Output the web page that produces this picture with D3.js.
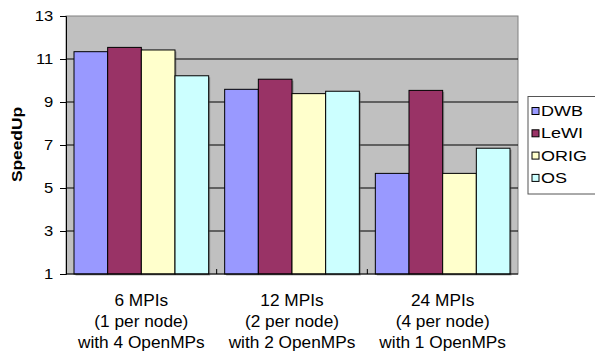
<!DOCTYPE html>
<html>
<head>
<meta charset="utf-8">
<script src="https://cdn.jsdelivr.net/npm/d3@7"></script>
<style>
body { margin: 0; background: #fff; }
text { font-family: "Liberation Sans", Arial, sans-serif; }
</style>
</head>
<body>
<svg id="chart" width="595" height="352"></svg>
<script>
var groups = ["g1", "g2", "g3"];
var group_labels = [
    ["6 MPIs", "(1 per node)", "with 4 OpenMPs"],
    ["12 MPIs", "(2 per node)", "with 2 OpenMPs"],
    ["24 MPIs", "(4 per node)", "with 1 OpenMPs"]
];
var series = ["DWB", "LeWI", "ORIG", "OS"];
var series_colors = ["#9999ff", "#993366", "#ffffcc", "#ccffff"];
var dwb = [11.34, 9.59, 5.68];
var lewi = [11.54, 10.06, 9.54];
var orig = [11.42, 9.39, 5.68];
var os = [10.22, 9.50, 6.85];
var y_ticks = [1, 3, 5, 7, 9, 11, 13];

var values = [dwb, lewi, orig, os];

var svg = d3.select('#chart');
var margin = {top: 16, right: 77, bottom: 78, left: 66};
var width = 595, height = 352;

var xScale = d3.scaleBand()
    .domain(groups)
    .range([margin.left, width - margin.right]);

var xInner = d3.scaleBand()
    .domain(series)
    .range([8, xScale.bandwidth() - 8]);

var yScale = d3.scaleLinear()
    .domain([1, 13])
    .range([height - margin.bottom, margin.top]);

var color = d3.scaleOrdinal().domain(series).range(series_colors);

// plot background
svg.append("rect")
    .attr("x", margin.left)
    .attr("y", margin.top)
    .attr("width", width - margin.right - margin.left)
    .attr("height", height - margin.bottom - margin.top)
    .style("fill", "#c0c0c0")
    .style("stroke", "#808080")
    .style("stroke-width", 1);

// gridlines
svg.append("g")
    .selectAll("line")
    .data(y_ticks.slice(1, -1))
    .enter()
    .append("line")
    .attr("x1", margin.left)
    .attr("x2", width - margin.right)
    .attr("y1", function(d) { return yScale(d); })
    .attr("y2", function(d) { return yScale(d); })
    .style("stroke", "#000")
    .style("stroke-width", 1);

// bars
var barData = [];
groups.forEach(function(g, gi) {
    series.forEach(function(s, si) {
        barData.push({group: g, key: s, val: values[si][gi]});
    });
});

// shadow
svg.append("g")
    .selectAll("rect")
    .data(barData)
    .enter()
    .append("rect")
    .attr("x", function(d) { return xScale(d.group) + xInner(d.key) + 1.5; })
    .attr("y", function(d) { return yScale(d.val) + 1.5; })
    .attr("width", xInner.bandwidth())
    .attr("height", function(d) { return yScale(1) - yScale(d.val); })
    .style("fill", "#555")
    .style("opacity", 0.5);

svg.append("g")
    .selectAll("rect")
    .data(barData)
    .enter()
    .append("rect")
    .attr("x", function(d) { return xScale(d.group) + xInner(d.key); })
    .attr("y", function(d) { return yScale(d.val); })
    .attr("width", xInner.bandwidth())
    .attr("height", function(d) { return yScale(1) - yScale(d.val); })
    .style("fill", function(d) { return color(d.key); })
    .style("stroke", "#000")
    .style("stroke-width", 1);

// y axis
var yAxis = d3.axisLeft(yScale).tickValues(y_ticks).tickSize(6).tickPadding(6).tickFormat(d3.format("d"));
var yg = svg.append("g")
    .attr("transform", "translate(" + margin.left + ",0)")
    .call(yAxis);
yg.selectAll("text")
    .style("font-size", "15.5px")
    .style("fill", "#000")
    .attr("transform", "scale(1.07,1)");
yg.selectAll("line, path").style("stroke", "#000");

// x axis
var xg = svg.append("g")
    .attr("transform", "translate(0," + (height - margin.bottom) + ")");
xg.append("line")
    .attr("x1", margin.left)
    .attr("x2", width - margin.right)
    .style("stroke", "#000");
xg.selectAll(".sep")
    .data(groups.slice(1))
    .enter()
    .append("line")
    .attr("x1", function(d) { return xScale(d); })
    .attr("x2", function(d) { return xScale(d); })
    .attr("y1", 0)
    .attr("y2", -5)
    .style("stroke", "#000");

var labels = svg.append("g")
    .selectAll("text")
    .data(groups)
    .enter()
    .append("text")
    .attr("transform", function(d) {
        return "translate(" + (xScale(d) + xScale.bandwidth() / 2) + ",305.5) scale(1.08,1)";
    })
    .attr("text-anchor", "middle")
    .style("font-size", "16px");
labels.selectAll("tspan")
    .data(function(d, i) { return group_labels[i]; })
    .enter()
    .append("tspan")
    .attr("x", 0)
    .attr("dy", function(d, i) { return i == 0 ? 0 : 21.3; })
    .text(function(d) { return d; });

// y label
svg.append("text")
    .attr("transform", "translate(21.5,144.5) rotate(-90) scale(1.12,1)")
    .attr("text-anchor", "middle")
    .style("font-size", "15.5px")
    .style("font-weight", "bold")
    .text("SpeedUp");

// legend
var legend = svg.append("g").attr("transform", "translate(528,96.5)");
legend.append("rect")
    .attr("width", 72)
    .attr("height", 97.5)
    .style("fill", "#fff")
    .style("stroke", "#555");
var items = legend.selectAll(".item")
    .data(series)
    .enter()
    .append("g")
    .attr("transform", function(d, i) { return "translate(0," + (14.5 + i * 22.3) + ")"; });
items.append("rect")
    .attr("x", 4)
    .attr("y", -3.5)
    .attr("width", 7)
    .attr("height", 7)
    .style("fill", function(d) { return color(d); })
    .style("stroke", "#000");
items.append("text")
    .attr("transform", "translate(13,5) scale(1.2,1)")
    .style("font-size", "15px")
    .text(function(d) { return d; });
</script>
</body>
</html>
